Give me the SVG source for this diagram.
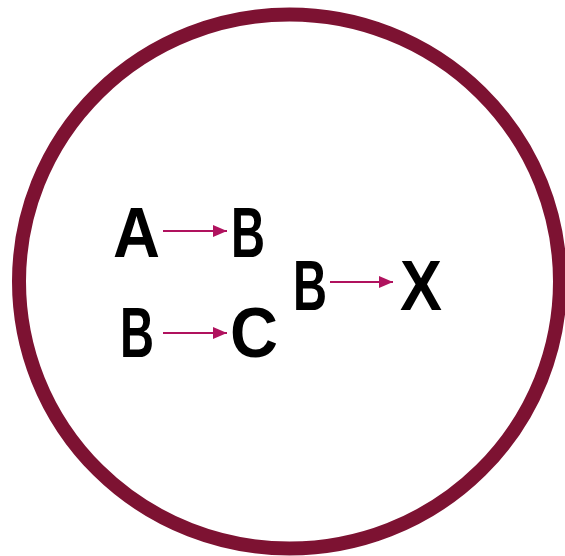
<svg xmlns="http://www.w3.org/2000/svg" width="565" height="556" viewBox="0 0 565 556">
<style>
.lbl{font-family:"Liberation Sans",Arial,sans-serif;font-weight:bold;font-size:70px;fill:#000;text-anchor:middle}
.arr{stroke:#B0125E;stroke-width:2;fill:none;marker-end:url(#ah)}
</style>
<defs>
<marker id="ah" markerUnits="userSpaceOnUse" markerWidth="14" markerHeight="12" refX="14" refY="6" orient="auto">
<path d="M0,0 L14,6 L0,12 Z" fill="#B0125E"/>
</marker>
</defs>
<rect width="565" height="556" fill="#fff"/>
<ellipse id="ring" cx="289.5" cy="281.5" rx="270.5" ry="267" fill="none" stroke="#7D1232" stroke-width="14"/>
<g id="nA"><text class="lbl" x="136.5" y="257" textLength="47" lengthAdjust="spacingAndGlyphs">A</text></g>
<g id="nB1"><text class="lbl" x="248" y="257" textLength="34" lengthAdjust="spacingAndGlyphs">B</text></g>
<g id="nB2"><text class="lbl" x="137" y="357" textLength="34" lengthAdjust="spacingAndGlyphs">B</text></g>
<g id="nC"><text class="lbl" x="254" y="357" textLength="48" lengthAdjust="spacingAndGlyphs">C</text></g>
<g id="nB3"><text class="lbl" x="310" y="310" textLength="34" lengthAdjust="spacingAndGlyphs">B</text></g>
<g id="nX"><text class="lbl" x="421" y="310" textLength="42" lengthAdjust="spacingAndGlyphs">X</text></g>
<g id="connectors">
<line class="arr" x1="163" y1="231" x2="227" y2="231"/>
<line class="arr" x1="163" y1="333" x2="227" y2="333"/>
<line class="arr" x1="330" y1="282" x2="393" y2="282"/>
</g>
</svg>
